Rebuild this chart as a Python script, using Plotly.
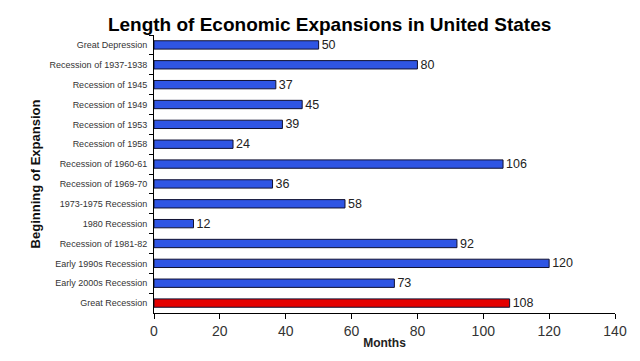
import plotly.graph_objects as go

categories = [
    "Great Depression", "Recession of 1937-1938", "Recession of 1945",
    "Recession of 1949", "Recession of 1953", "Recession of 1958",
    "Recession of 1960-61", "Recession of 1969-70", "1973-1975 Recession",
    "1980 Recession", "Recession of 1981-82", "Early 1990s Recession",
    "Early 2000s Recession", "Great Recession",
]
months = [50, 80, 37, 45, 39, 24, 106, 36, 58, 12, 92, 120, 73, 108]
colors = ["#2F55E4"] * 13 + ["#E40000"]
x_ticks = [0, 20, 40, 60, 80, 100, 120, 140]

fig = go.Figure(go.Bar(
    x=months, y=categories, orientation="h",
    marker=dict(color=colors, line=dict(color="#101030", width=1)),
    text=[str(v) for v in months], textposition="outside",
    constraintext="none",
    textfont=dict(family="Liberation Sans, Arial", size=12.5, color="#222"),
    cliponaxis=False,
))

fig.update_layout(
    width=640, height=361,
    paper_bgcolor="white", plot_bgcolor="white",
    margin=dict(l=154, r=25, t=35, b=48),
    bargap=0.58,
    showlegend=False,
    title=dict(text="<b>Length of Economic Expansions in United States</b>",
               x=0.515, xanchor="center", y=0.933, yanchor="middle",
               font=dict(family="Liberation Sans, Arial", size=19, color="#000")),
    font=dict(family="Liberation Sans, Arial", color="#222"),
)
fig.update_xaxes(
    range=[0, 140], tickvals=x_ticks, ticks="outside", ticklen=5,
    tickcolor="#000", showline=True, linecolor="#000", linewidth=1,
    showgrid=False, zeroline=False,
    tickfont=dict(size=14, color="#333"),
    title=dict(text="<b>Months</b>", font=dict(size=12, color="#222"), standoff=0),
)
fig.update_yaxes(
    categoryorder="array", categoryarray=categories, autorange="reversed",
    ticks="outside", ticklen=4, tickcolor="#000", tickson="boundaries",
    ticklabelstandoff=4,
    showline=True, linecolor="#000", linewidth=1, showgrid=False,
    tickfont=dict(size=9, color="#333"),
    title=dict(text="<b>Beginning of Expansion</b>", font=dict(size=13, color="#111"), standoff=6),
)

fig.write_html("out.html", config={"displayModeBar": False})
with open("out.html", encoding="utf-8") as f:
    html = f.read()
html = html.replace("<body>", '<body style="margin:0;padding:0">', 1)
with open("out.html", "w", encoding="utf-8") as f:
    f.write(html)
